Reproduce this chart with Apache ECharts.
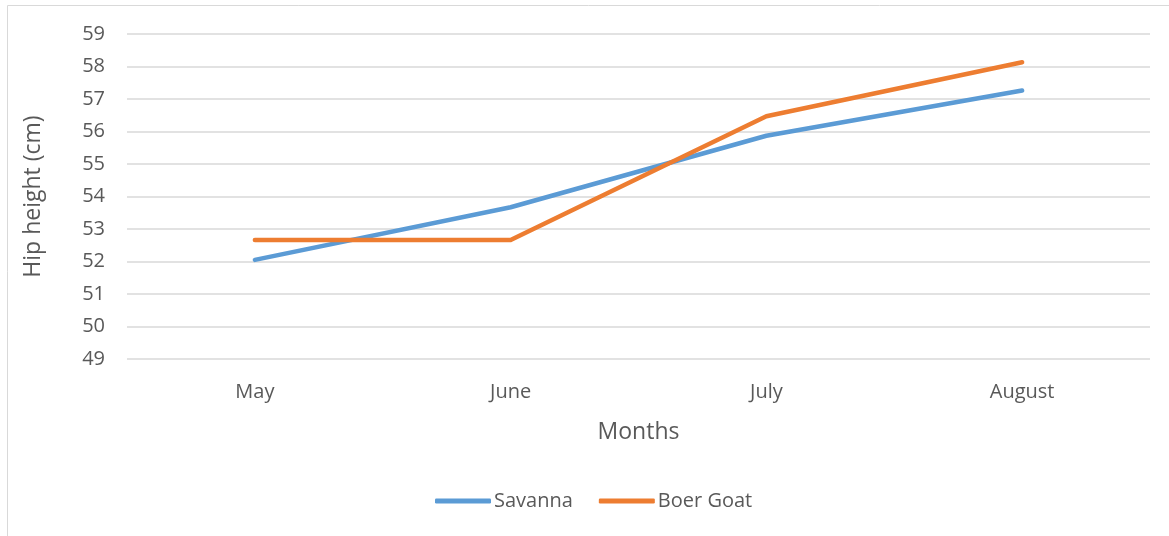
<!DOCTYPE html>
<html>
<head>
<meta charset="utf-8">
<script src="https://cdn.jsdelivr.net/npm/echarts@6/dist/echarts.min.js"></script>
<style>
  html, body { margin: 0; padding: 0; background: #fff; }
  #chart { width: 1169px; height: 536px; }
</style>
</head>
<body>
<div id="chart"></div>
<script>
// data
var months = ['May', 'June', 'July', 'August'];
var savanna = [52.05, 53.67, 55.87, 57.26];
var boerGoat = [52.66, 52.66, 56.47, 58.13];

var font = '"Open Sans", "Liberation Sans", sans-serif';
var chart = echarts.init(document.getElementById('chart'));

chart.setOption({
  animation: false,
  textStyle: { fontFamily: font },
  graphic: [
    {
      type: 'rect',
      shape: { x: 7.5, y: 5.5, width: 1200, height: 600 },
      style: { fill: 'none', stroke: '#d9d9d9', lineWidth: 1 },
      silent: true
    }
  ],
  grid: { left: 127, right: 19, top: 34, bottom: 177 },
  legend: {
    bottom: 20,
    left: 430,
    icon: 'roundRect',
    itemWidth: 56,
    itemHeight: 5,
    itemGap: 26,
    textStyle: { fontSize: 20, color: '#595959', fontFamily: font, padding: [0, 0, 0, -2] },
    data: ['Savanna', 'Boer Goat']
  },
  xAxis: {
    type: 'category',
    data: months,
    boundaryGap: true,
    axisLine: { show: false },
    axisTick: { show: false },
    axisLabel: { fontSize: 20, color: '#595959', margin: 23 },
    name: 'Months',
    nameLocation: 'middle',
    nameGap: 62,
    nameTextStyle: { fontSize: 23, color: '#595959' }
  },
  yAxis: {
    type: 'value',
    min: 49,
    max: 59,
    interval: 1,
    axisLine: { show: false },
    axisTick: { show: false },
    axisLabel: { fontSize: 20, color: '#595959', margin: 22 },
    splitLine: { lineStyle: { color: '#d9d9d9', width: 1.5 } },
    name: 'Hip height (cm)',
    nameLocation: 'middle',
    nameGap: 82,
    nameTextStyle: { fontSize: 23, color: '#595959' }
  },
  series: [
    {
      name: 'Savanna',
      type: 'line',
      data: savanna,
      symbol: 'none',
      itemStyle: { color: '#5b9bd5' },
      lineStyle: { color: '#5b9bd5', width: 4.5, cap: 'round', join: 'round' }
    },
    {
      name: 'Boer Goat',
      type: 'line',
      data: boerGoat,
      symbol: 'none',
      itemStyle: { color: '#ed7d31' },
      lineStyle: { color: '#ed7d31', width: 4.5, cap: 'round', join: 'round' }
    }
  ]
});
</script>
</body>
</html>
